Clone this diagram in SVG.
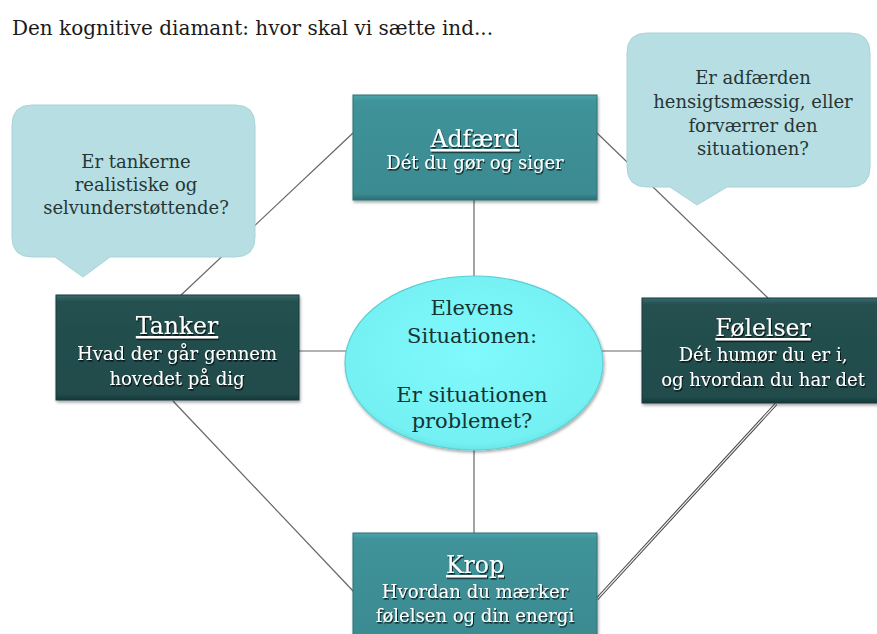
<svg xmlns="http://www.w3.org/2000/svg" width="877" height="634" viewBox="0 0 877 634">
<defs>
<linearGradient id="gTeal" x1="0" y1="0" x2="0" y2="1">
<stop offset="0" stop-color="#4aa4aa"/><stop offset="0.06" stop-color="#3f9399"/><stop offset="0.94" stop-color="#3a8b91"/><stop offset="1" stop-color="#2c6e73"/>
</linearGradient>
<linearGradient id="gDark" x1="0" y1="0" x2="0" y2="1">
<stop offset="0" stop-color="#3a6c6e"/><stop offset="0.06" stop-color="#25504f"/><stop offset="0.94" stop-color="#224b4c"/><stop offset="1" stop-color="#173838"/>
</linearGradient>
<radialGradient id="gEll" cx="0.5" cy="0.45" r="0.6">
<stop offset="0" stop-color="#80fafc"/><stop offset="0.85" stop-color="#74f0f3"/><stop offset="1" stop-color="#5fd8dc"/>
</radialGradient>
<filter id="sh" x="-10%" y="-10%" width="120%" height="130%">
<feDropShadow dx="1" dy="2" stdDeviation="1.5" flood-color="#000" flood-opacity="0.35"/>
</filter>
<filter id="ts" x="-5%" y="-20%" width="110%" height="150%">
<feDropShadow dx="1" dy="1.5" stdDeviation="0.6" flood-color="#000" flood-opacity="0.8"/>
</filter>
</defs>
<style>
text{font-family:"DejaVu Serif","Liberation Serif",serif;text-anchor:middle}
.title{font-size:20px;fill:#1a1a1a;text-anchor:start}
.nt{fill:#fff;font-size:23.5px;text-decoration:underline}
.ns{fill:#fff;font-size:18px}
.ell{fill:#163334;font-size:21px}
.bub{fill:#263636;font-size:18px}
.ln{stroke:#666;stroke-width:1.2;fill:none}
</style>
<text class="title" x="12" y="35">Den kognitive diamant: hvor skal vi sætte ind...</text>
<g id="connectors">
<line class="ln" x1="353" y1="133" x2="180" y2="296"/>
<line class="ln" x1="597" y1="133" x2="768" y2="298"/>
<line class="ln" x1="474" y1="200" x2="474" y2="277"/>
<line class="ln" x1="299" y1="351" x2="346" y2="351"/>
<line class="ln" x1="642" y1="351" x2="602" y2="351"/>
<line class="ln" x1="474" y1="449" x2="474" y2="533"/>
<line class="ln" x1="173" y1="401" x2="354" y2="592"/>
<line x1="776" y1="404" x2="597" y2="599" stroke="#444" stroke-width="3.2"/>
<line x1="776" y1="404" x2="597" y2="599" stroke="#eee" stroke-width="1.2"/>
</g>
<g id="bubble-left">
<path d="M32,105 H235 Q255,105 255,125 V237 Q255,257 235,257 H110 L83,277 L55,257 H32 Q12,257 12,237 V125 Q12,105 32,105 Z" fill="#b7dfe3" stroke="#a9d3d8" stroke-width="1"/>
<text class="bub" x="136" y="168">Er tankerne</text>
<text class="bub" x="136" y="191">realistiske og</text>
<text class="bub" x="136" y="214">selvunderstøttende?</text>
</g>
<g id="bubble-right">
<path d="M647,33 H850 Q870,33 870,53 V167 Q870,187 850,187 H727 L697,205 L670,187 H647 Q627,187 627,167 V53 Q627,33 647,33 Z" fill="#b7dfe3" stroke="#a9d3d8" stroke-width="1"/>
<text class="bub" x="753" y="84">Er adfærden</text>
<text class="bub" x="753" y="108">hensigtsmæssig, eller</text>
<text class="bub" x="753" y="132">forværrer den</text>
<text class="bub" x="753" y="155">situationen?</text>
</g>
<g id="adfaerd">
<rect x="353" y="95" width="244" height="105" fill="url(#gTeal)" stroke="#2e7277" stroke-width="1" filter="url(#sh)"/>
<text class="nt" x="475" y="147" filter="url(#ts)">Adfærd</text>
<text class="ns" x="475" y="169" filter="url(#ts)">Dét du gør og siger</text>
</g>
<g id="tanker">
<rect x="56" y="295" width="243" height="105" fill="url(#gDark)" stroke="#173b3c" stroke-width="1" filter="url(#sh)"/>
<text class="nt" x="177" y="334" filter="url(#ts)">Tanker</text>
<text class="ns" x="177" y="360" filter="url(#ts)">Hvad der går gennem</text>
<text class="ns" x="177" y="385" filter="url(#ts)">hovedet  på dig</text>
</g>
<g id="folelser">
<rect x="642" y="298" width="240" height="105" fill="url(#gDark)" stroke="#173b3c" stroke-width="1" filter="url(#sh)"/>
<text class="nt" x="763" y="336" filter="url(#ts)">Følelser</text>
<text class="ns" x="763" y="361" filter="url(#ts)">Dét humør du er i,</text>
<text class="ns" x="763" y="386" filter="url(#ts)">og hvordan du har det</text>
</g>
<g id="krop">
<rect x="353" y="533" width="244" height="110" fill="url(#gTeal)" stroke="#2e7277" stroke-width="1" filter="url(#sh)"/>
<text class="nt" x="475" y="573" filter="url(#ts)">Krop</text>
<text class="ns" x="475" y="598" filter="url(#ts)">Hvordan du mærker</text>
<text class="ns" x="475" y="622" filter="url(#ts)">følelsen og din energi</text>
</g>
<g id="situation">
<ellipse cx="474" cy="363" rx="129" ry="87" fill="url(#gEll)" stroke="#5ccfd3" stroke-width="1.2" filter="url(#sh)"/>
<text class="ell" x="472" y="315">Elevens</text>
<text class="ell" x="472" y="343">Situationen:</text>
<text class="ell" x="472" y="402">Er situationen</text>
<text class="ell" x="472" y="428">problemet?</text>
</g>
</svg>
